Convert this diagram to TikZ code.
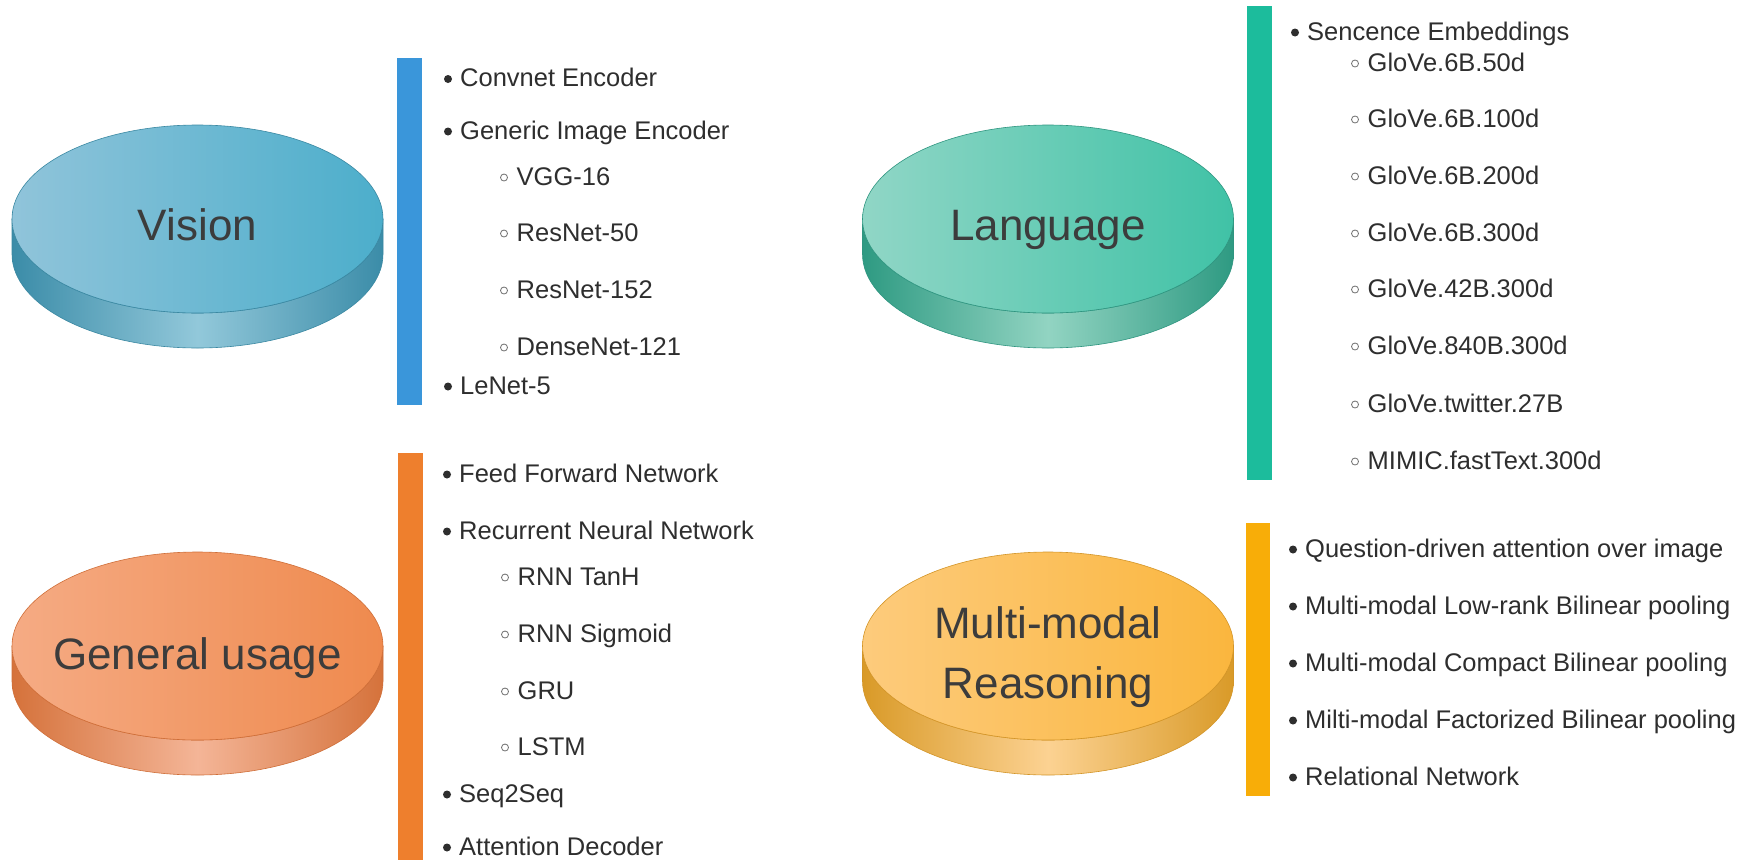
\documentclass[tikz,border=0pt]{standalone}
\usepackage{fontspec}
\setmainfont{Liberation Sans}
\definecolor{txt}{HTML}{2E2E2E}
\definecolor{lbl}{HTML}{3C3C3C}
\definecolor{ringc}{HTML}{707070}
% bars
\definecolor{barV}{HTML}{3A96DA}
\definecolor{barG}{HTML}{EE7F2D}
\definecolor{barL}{HTML}{1CBC9C}
\definecolor{barM}{HTML}{F8AD08}
% vision puck
\definecolor{vTopL}{HTML}{90C4DA}
\definecolor{vTopR}{HTML}{4CAECB}
\definecolor{vSide}{HTML}{3B8CA8}
\definecolor{vSideM}{HTML}{92C8DA}
\definecolor{vLine}{HTML}{3A88A2}
% language puck
\definecolor{lTopL}{HTML}{90D6C6}
\definecolor{lTopR}{HTML}{40C2A6}
\definecolor{lSide}{HTML}{2E9A82}
\definecolor{lSideM}{HTML}{92D4C2}
\definecolor{lLine}{HTML}{2F9580}
% general puck
\definecolor{gTopL}{HTML}{F5AB84}
\definecolor{gTopR}{HTML}{EF8A4E}
\definecolor{gSide}{HTML}{D5723B}
\definecolor{gSideM}{HTML}{F4B597}
\definecolor{gLine}{HTML}{CF6E38}
% multi-modal puck
\definecolor{mTopL}{HTML}{FDCB7C}
\definecolor{mTopR}{HTML}{FAB63E}
\definecolor{mSide}{HTML}{D99A28}
\definecolor{mSideM}{HTML}{FCD292}
\definecolor{mLine}{HTML}{D39528}

\tikzset{
  item/.style={anchor=base west, inner sep=0pt, text=txt,
    font=\fontsize{25.5}{30}\selectfont},
  disklabel/.style={anchor=base, inner sep=0pt, text=lbl,
    font=\fontsize{44}{60}\selectfont},
  dot/.style={circle, fill=txt, inner sep=0pt, minimum size=8pt},
  ring/.style={circle, draw=ringc, line width=0.8pt, inner sep=0pt, minimum size=7pt},
}

% flat puck: #1 x, #2 y (top face centre), #3/#4 top colours, #5/#6 side colours, #7 outline
\newcommand{\puck}[7]{%
  \shade[left color=#5, right color=#5, middle color=#6, draw=#7, line width=0.6pt]
    (#1-185.5,#2) -- (#1-185.5,#2+35)
    arc[start angle=180, end angle=0, x radius=185.5, y radius=94]
    -- (#1+185.5,#2)
    arc[start angle=0, end angle=180, x radius=185.5, y radius=94] -- cycle;
  \shade[left color=#3, right color=#4, draw=#7, line width=0.6pt]
    (#1,#2) ellipse[x radius=185.5, y radius=94];
}
% list entries: #1 name, #2 marker x, #3 baseline y, #4 text
\newcommand{\entry}[4]{%
  \node[dot] (#1-m) at (#2,#3-7.5) {};
  \node[item] (#1) at (#2+12,#3) {#4};}
\newcommand{\subentry}[4]{%
  \node[ring] (#1-m) at (#2,#3-7.5) {};
  \node[item] (#1) at (#2+12.5,#3) {#4};}

\begin{document}
\begin{tikzpicture}[x=1pt, y=-1pt]
\useasboundingbox (0,0) rectangle (1758,860);
\fill[white] (0,0) rectangle (1758,860);

% ---- pucks ----
\puck{197.5}{219}{vTopL}{vTopR}{vSide}{vSideM}{vLine}
\node[disklabel] (vision) at (197.5,240) {Vision};

\puck{197.5}{646}{gTopL}{gTopR}{gSide}{gSideM}{gLine}
\node[disklabel] (general) at (197.5,669) {General usage};

\puck{1048}{219}{lTopL}{lTopR}{lSide}{lSideM}{lLine}
\node[disklabel] (language) at (1048,240) {Language};

\puck{1048}{646}{mTopL}{mTopR}{mSide}{mSideM}{mLine}
\node[disklabel] (multi1) at (1048,638) {Multi-modal};
\node[disklabel] (multi2) at (1048,698) {Reasoning};

% ---- bars ----
\fill[barV] (397,58) rectangle (422,405);
\fill[barG] (398,453) rectangle (423,860);
\fill[barL] (1247,6) rectangle (1272,480);
\fill[barM] (1246,523) rectangle (1270,796);

% ---- vision list ----
\entry{v1}{448}{86.5}{Convnet Encoder}
\entry{v2}{448}{139}{Generic Image Encoder}
\subentry{v3}{504}{185}{VGG-16}
\subentry{v4}{504}{241}{ResNet-50}
\subentry{v5}{504}{298}{ResNet-152}
\subentry{v6}{504}{355}{DenseNet-121}
\entry{v7}{448}{394}{LeNet-5}

% ---- general usage list ----
\entry{g1}{447}{482}{Feed Forward Network}
\entry{g2}{447}{539}{Recurrent Neural Network}
\subentry{g3}{505}{585}{RNN TanH}
\subentry{g4}{505}{642}{RNN Sigmoid}
\subentry{g5}{505}{699}{GRU}
\subentry{g6}{505}{755}{LSTM}
\entry{g7}{447}{802}{Seq2Seq}
\entry{g8}{447}{855}{Attention Decoder}

% ---- language list ----
\entry{l1}{1295}{40}{Sencence Embeddings}
\subentry{l2}{1355}{71}{GloVe.6B.50d}
\subentry{l3}{1355}{127}{GloVe.6B.100d}
\subentry{l4}{1355}{184}{GloVe.6B.200d}
\subentry{l5}{1355}{241}{GloVe.6B.300d}
\subentry{l6}{1355}{297}{GloVe.42B.300d}
\subentry{l7}{1355}{354}{GloVe.840B.300d}
\subentry{l8}{1355}{412}{GloVe.twitter.27B}
\subentry{l9}{1355}{469}{MIMIC.fastText.300d}

% ---- multi-modal reasoning list ----
\entry{m1}{1293}{557}{Question-driven attention over image}
\entry{m2}{1293}{614}{Multi-modal Low-rank Bilinear pooling}
\entry{m3}{1293}{671}{Multi-modal Compact Bilinear pooling}
\entry{m4}{1293}{728}{Milti-modal Factorized Bilinear pooling}
\entry{m5}{1293}{785}{Relational Network}
\end{tikzpicture}
\end{document}
